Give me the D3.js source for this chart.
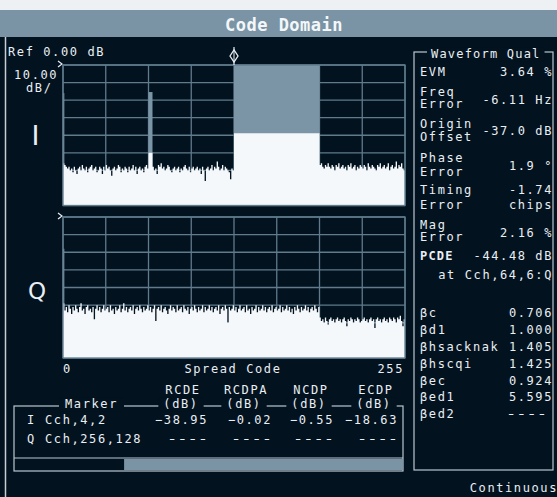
<!DOCTYPE html>
<html><head><meta charset="utf-8">
<script src="https://cdn.jsdelivr.net/npm/d3@7"></script>
<style>body{margin:0;background:#03121f;} svg{display:block}</style>
</head><body>
<svg id="c" width="557" height="497"></svg>
<script>
// ---------------- DATA ----------------
const titleText = "Code Domain";
const refLevel = "Ref 0.00 dB";
const scaleText = ["10.00", "dB/"];
const codeDomain = [0, 256];
const dbDomain = [0, -80];
const gridCodes = [0, 32, 64, 96, 128, 160, 192, 224, 256];
const gridDb = [0, -10, -20, -30, -40, -50, -60, -70, -80];
const axisLabels = ["0", "Spread Code", "255"];
const markerCode = 128;

// I branch trace (dB per spread code, 0..255)
const iTrace = [
-56,-57,-58,-59,-58,-60,-59,-61,-58,-60,-62,-59,-58,-60,-57,-59,
-60,-58,-61,-59,-58,-57,-60,-59,-58,-61,-60,-58,-59,-62,-58,-60,
-57,-59,-58,-60,-63,-59,-58,-60,-59,-57,-58,-61,-59,-60,-58,-59,
-61,-58,-60,-59,-57,-60,-58,-62,-59,-58,-60,-59,-61,-58,-57,-59,
-50,-50,-50,
-58,-60,-59,-62,-57,-58,-56,-59,-58,-60,-59,-57,-58,-60,-61,-59,
-58,-60,-59,-58,-61,-59,-60,-58,-57,-59,-60,-58,-61,-59,-58,-60,
-59,-58,-60,-59,-62,-58,-60,-66,-59,-58,-60,-59,-57,-60,-58,-59,
-55,-58,-60,-59,-57,-60,-58,-59,-60,-61,-65,-59,-60,
-38.9,-38.9,-38.9,-38.9,-38.9,-38.9,-38.9,-38.9,-38.9,-38.9,-38.9,-38.9,-38.9,-38.9,-38.9,-38.9,
-38.9,-38.9,-38.9,-38.9,-38.9,-38.9,-38.9,-38.9,-38.9,-38.9,-38.9,-38.9,-38.9,-38.9,-38.9,-38.9,
-38.9,-38.9,-38.9,-38.9,-38.9,-38.9,-38.9,-38.9,-38.9,-38.9,-38.9,-38.9,-38.9,-38.9,-38.9,-38.9,
-38.9,-38.9,-38.9,-38.9,-38.9,-38.9,-38.9,-38.9,-38.9,-38.9,-38.9,-38.9,-38.9,-38.9,-38.9,-38.9,
-57,-56,-58,-59,-57,-58,-56,-58,-59,-57,-58,-60,-57,-58,-56,-59,
-58,-57,-59,-58,-60,-57,-58,-56,-59,-58,-57,-60,-58,-59,-57,-58,
-59,-57,-58,-60,-56,-58,-59,-57,-58,-59,-60,-57,-58,-56,-59,-58,
-57,-59,-58,-56,-60,-58,-57,-59,-58,-55,-59,-57,-58,-56,-59,-60
];
// I branch active channel power (gray bars)
const iChanStart = [0, 64, 128];
const iChanEnd   = [1, 67, 192];
const iChanPower = [-16, -15.4, 0];

// Q branch trace
const qTrace = [
-49,-53,-51,-54,-50,-52,-55,-51,-53,-50,-52,-54,-51,-49,-53,-52,
-55,-51,-50,-53,-52,-54,-51,-58,-52,-50,-53,-51,-54,-52,-50,-53,
-52,-51,-54,-50,-53,-52,-55,-51,-53,-52,-50,-54,-52,-49,-53,-51,
-54,-52,-51,-53,-50,-55,-52,-51,-53,-50,-52,-54,-51,-53,-52,-50,
-53,-51,-54,-52,-50,-59,-52,-51,-53,-50,-54,-52,-51,-53,-55,-52,
-50,-53,-51,-52,-54,-50,-53,-52,-51,-54,-50,-52,-53,-51,-55,-52,
-51,-53,-50,-52,-54,-51,-53,-52,-50,-54,-51,-53,-52,-50,-53,-51,
-54,-52,-51,-53,-50,-55,-52,-51,-53,-50,-52,-60,-51,-53,-52,-50,
-53,-51,-54,-52,-50,-53,-52,-51,-54,-50,-53,-52,-55,-51,-53,-52,
-50,-54,-51,-53,-52,-50,-53,-51,-54,-52,-51,-53,-50,-54,-52,-51,
-53,-52,-50,-54,-51,-53,-52,-50,-53,-51,-54,-52,-55,-51,-53,-50,
-52,-54,-51,-53,-52,-50,-53,-51,-54,-52,-51,-53,-50,-52,-54,-51,
-57,-59,-58,-60,-57,-59,-61,-58,-57,-59,-58,-60,-58,-57,-59,-58,
-60,-58,-57,-59,-62,-58,-59,-57,-58,-60,-58,-59,-57,-58,-60,-59,
-58,-57,-59,-58,-60,-58,-57,-59,-58,-63,-58,-57,-59,-58,-60,-58,
-57,-59,-58,-60,-57,-58,-59,-57,-58,-60,-57,-58,-56,-59,-62,-58
];
const qChanStart = [0];
const qChanEnd   = [1];
const qChanPower = [-18];

// Marker table
const markerCols = ["RCDE", "RCDPA", "NCDP", "ECDP"];
const markerUnit = "(dB)";
const markerBranch = ["I", "Q"];
const markerChan = ["Cch,4,2", "Cch,256,128"];
const markerIValues = [-38.95, -0.02, -0.55, -18.63];
const markerQValues = ["----", "----", "----", "----"];
const progressFraction = 0.283;

// Waveform quality panel
const wqTitle = "Waveform Qual";
const wqLabels = [["EVM"], ["Freq", "Error"], ["Origin", "Offset"], ["Phase", "Error"], ["Timing", "Error"], ["Mag", "Error"]];
const wqValues = [["3.64 %"], ["-6.11 Hz"], ["-37.0 dB"], ["1.9 °"], ["-1.74", "chips"], ["2.16 %"]];
const pcdeLabel = "PCDE";
const pcdeValue = "-44.48 dB";
const pcdeAt = "at Cch,64,6:Q";
const betaNames = ["βc", "βd1", "βhsacknak", "βhscqi", "βec", "βed1", "βed2"];
const betaValues = ["0.706", "1.000", "1.405", "1.425", "0.924", "5.595", "----"];
const statusText = "Continuous";

// ---------------- LAYOUT / STYLE ----------------
const BG = "#03121f", BAR = "#7a94a5", GRID = "#5f7b8c", GRAYF = "#7b95a6",
      WHITE = "#f4f8fa", TXT = "#e9eff3", LINE = "#b9c7d0";
const FONT = "'DejaVu Sans Mono', monospace";
const FS = 12, LS = 1.6;

const svg = d3.select("#c");
svg.append("rect").attr("width", 557).attr("height", 497).attr("fill", BG);
svg.append("rect").attr("width", 557).attr("height", 10).attr("fill", "#eef1f3");
svg.append("rect").attr("y", 10).attr("width", 557).attr("height", 27).attr("fill", BAR);
svg.append("line").attr("x1", 5.5).attr("x2", 5.5).attr("y1", 37).attr("y2", 497)
   .attr("stroke", "#c5ced4").attr("stroke-width", 1.5);

function txt(x, y, s, opts = {}) {
  const t = svg.append("text").attr("x", x).attr("y", y + 4.4).text(s)
    .attr("fill", opts.fill || TXT)
    .attr("font-family", FONT)
    .attr("font-size", opts.size || FS)
    .attr("font-weight", opts.weight || "normal")
    .attr("text-anchor", opts.anchor || "start")
    .style("letter-spacing", (opts.ls === undefined ? LS : opts.ls) + "px");
  if (opts.len) t.attr("textLength", opts.len).attr("lengthAdjust", "spacingAndGlyphs");
  return t;
}
function dashes(xRight, y, s) {
  return txt(xRight - 41, y, s, { ls: 0, len: 41 });
}
function bgBehind(t, pad) {
  const b = t.node().getBBox();
  svg.insert("rect", function () { return t.node(); })
    .attr("x", b.x - pad).attr("y", b.y).attr("width", b.width + 2 * pad).attr("height", b.height)
    .attr("fill", BG);
}

// Title
svg.append("text").attr("x", 284).attr("y", 30.5).text(titleText)
  .attr("fill", "#f4f7f9").attr("font-family", FONT).attr("font-weight", "bold")
  .attr("font-size", 17).attr("text-anchor", "middle").style("letter-spacing", "0.5px");

// Left labels
txt(8, 52, refLevel);
txt(14, 75, scaleText[0]);
txt(26, 88, scaleText[1]);

const x = d3.scaleLinear().domain(codeDomain).range([63, 405]);

function drawPanel(yTop, yBot, trace, cs, ce, cp) {
  const y = d3.scaleLinear().domain(dbDomain).range([yTop, yBot]);
  const g = svg.append("g");
  g.selectAll(".gv").data(gridCodes).enter().append("line")
    .attr("x1", d => x(d)).attr("x2", d => x(d)).attr("y1", yTop).attr("y2", yBot)
    .attr("stroke", GRID).attr("stroke-width", 1.3);
  g.selectAll(".gh").data(gridDb).enter().append("line")
    .attr("x1", x(0)).attr("x2", x(256)).attr("y1", d => y(d)).attr("y2", d => y(d))
    .attr("stroke", GRID).attr("stroke-width", 1.3);
  g.selectAll(".ch").data(cs).enter().append("rect")
    .attr("x", (d) => x(d)).attr("width", (d, i) => Math.max(1.3, x(ce[i]) - x(d)))
    .attr("y", (d, i) => y(cp[i])).attr("height", (d, i) => yBot - y(cp[i]))
    .attr("fill", GRAYF);
  const pts = trace.map((v, i) => ({ c: i, v }));
  pts.push({ c: 256, v: trace[255] });
  const area = d3.area().x(d => x(d.c)).y0(yBot).y1(d => y(d.v)).curve(d3.curveStepAfter);
  g.append("path").datum(pts).attr("d", area).attr("fill", WHITE);
  g.append("rect").attr("x", x(0)).attr("y", yTop).attr("width", x(256) - x(0)).attr("height", yBot - yTop)
    .attr("fill", "none").attr("stroke", GRID).attr("stroke-width", 1.3);
  svg.append("path").attr("d", `M58,${yTop - 4} L62,${yTop - 1} L58,${yTop + 2}`)
    .attr("fill", "none").attr("stroke", TXT).attr("stroke-width", 1.2);
  return y;
}
drawPanel(65, 205.5, iTrace, iChanStart, iChanEnd, iChanPower);
drawPanel(217, 358, qTrace, qChanStart, qChanEnd, qChanPower);

// Branch letters
svg.append("text").attr("x", 35.5).attr("y", 145).text("I").attr("fill", TXT)
  .attr("font-family", "'DejaVu Sans', sans-serif").attr("font-size", 27).attr("text-anchor", "middle");
svg.append("text").attr("x", 37).attr("y", 298.5).text("Q").attr("fill", TXT)
  .attr("font-family", "'DejaVu Sans', sans-serif").attr("font-size", 23).attr("text-anchor", "middle");

// Marker diamond
const mx = x(markerCode);
svg.append("line").attr("x1", mx).attr("x2", mx).attr("y1", 47).attr("y2", 65).attr("stroke", TXT).attr("stroke-width", 1.2);
svg.append("path").attr("d", `M${mx - 4},56 L${mx},50 L${mx + 4},56 L${mx},62 Z`)
  .attr("fill", BG).attr("stroke", TXT).attr("stroke-width", 1.3);
svg.append("line").attr("x1", mx).attr("x2", mx).attr("y1", 51).attr("y2", 61).attr("stroke", TXT).attr("stroke-width", 1);

// Axis labels
txt(x(0), 369, axisLabels[0]);
txt(233, 369, axisLabels[1], { anchor: "middle" });
txt(x(256) - 1, 369, axisLabels[2], { anchor: "end" });

// Marker table box
svg.append("rect").attr("x", 14).attr("y", 406).attr("width", 389).attr("height", 65)
  .attr("fill", "none").attr("stroke", LINE).attr("stroke-width", 1.2);
svg.append("line").attr("x1", 14).attr("x2", 403).attr("y1", 458).attr("y2", 458).attr("stroke", LINE).attr("stroke-width", 1.2);
svg.append("rect").attr("x", 14 + 389 * progressFraction).attr("y", 459).attr("width", 389 * (1 - progressFraction)).attr("height", 11)
  .attr("fill", BAR);
const mk = txt(91.5, 404, "Marker", { anchor: "middle" });
bgBehind(mk, 6);
const colCenters = [183, 246, 311, 376];
const colRight = [208, 272, 334, 398];
markerCols.forEach((c, i) => {
  txt(colCenters[i], 390, c, { anchor: "middle" });
  const u = txt(colCenters[i] - 2, 404, markerUnit, { anchor: "middle" });
  bgBehind(u, 5);
});
const rowY = [420, 439];
markerBranch.forEach((b, r) => {
  txt(27, rowY[r], b);
  txt(45, rowY[r], markerChan[r]);
});
markerIValues.forEach((v, i) => txt(colRight[i], rowY[0], d3.format(".2f")(v), { anchor: "end" }));
markerQValues.forEach((v, i) => dashes(colRight[i], rowY[1], v));

// Waveform quality panel
svg.append("rect").attr("x", 414).attr("y", 52).attr("width", 139).attr("height", 418)
  .attr("fill", "none").attr("stroke", LINE).attr("stroke-width", 1.2);
const wt = txt(431, 54, wqTitle, { ls: 1.2 });
bgBehind(wt, 4);
const labY = [[72], [91.5, 104], [124, 137], [157.5, 171.5], [190, 204.5], [224.5, 237]];
const valY = [[72], [99.5], [131], [166], [190, 204.5], [233]];
wqLabels.forEach((ls, i) => ls.forEach((l, j) => txt(420, labY[i][j], l)));
wqValues.forEach((vs, i) => vs.forEach((v, j) => txt(553, valY[i][j], v, { anchor: "end" })));
txt(420, 256, pcdeLabel, { weight: "bold", ls: 1.2 });
txt(553, 256, pcdeValue, { anchor: "end" });
txt(553, 275, pcdeAt, { anchor: "end" });
betaNames.forEach((b, i) => {
  const yy = 312.5 + i * 16.9;
  txt(420, yy, b);
  if (betaValues[i] === "----") dashes(547, yy, betaValues[i]);
  else txt(553, yy, betaValues[i], { anchor: "end" });
});
txt(558, 487.5, statusText, { anchor: "end" });
</script>
</body></html>
